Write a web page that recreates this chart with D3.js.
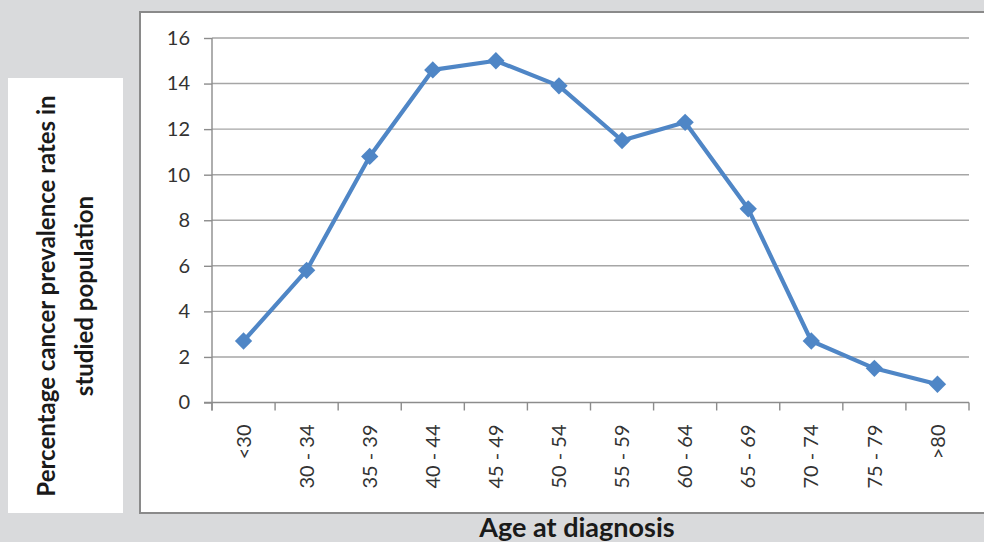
<!DOCTYPE html>
<html>
<head>
<meta charset="utf-8">
<script src="https://cdnjs.cloudflare.com/ajax/libs/d3/7.8.5/d3.min.js"></script>
<style>
    body { margin: 0; background: #d9dadc; }
    svg { display: block; font-family: Lato, "Open Sans", sans-serif; }
</style>
</head>
<body>
<svg width="984" height="542"></svg>
<script>
// data
var ageGroups = ["<30", "30 - 34", "35 - 39", "40 - 44", "45 - 49", "50 - 54",
                 "55 - 59", "60 - 64", "65 - 69", "70 - 74", "75 - 79", ">80"];
var prevalence = [2.7, 5.8, 10.8, 14.6, 15.0, 13.9, 11.5, 12.3, 8.5, 2.7, 1.5, 0.8];
var yTicks = [0, 2, 4, 6, 8, 10, 12, 14, 16];
var yTitleLines = ["Percentage cancer prevalence rates in", "studied population"];
var xTitle = "Age at diagnosis";

(function () {
    var svg = d3.select("svg"),
        plot = {left: 212, right: 969, top: 38, bottom: 402.5};

    // backgrounds: chart frame + y-title box
    svg.append("rect")
        .attr("x", 140).attr("y", 12)
        .attr("width", 900).attr("height", 501)
        .attr("fill", "#fff")
        .attr("stroke", "#8a8a8a")
        .attr("stroke-width", 2);

    svg.append("rect")
        .attr("x", 8).attr("y", 78)
        .attr("width", 115).attr("height", 435)
        .attr("fill", "#fff");

    var scaleX = d3.scaleBand().domain(ageGroups).range([plot.left, plot.right]).padding(0),
        scaleY = d3.scaleLinear().domain([0, 16]).range([plot.bottom, plot.top]);

    // gridlines
    svg.append("g").attr("class", "grid")
        .selectAll("line")
        .data(yTicks.filter(function (d) { return d > 0; }))
        .enter().append("line")
        .attr("x1", plot.left).attr("x2", plot.right)
        .attr("y1", function (d) { return scaleY(d); })
        .attr("y2", function (d) { return scaleY(d); })
        .attr("stroke", "#a6a6a6")
        .attr("stroke-width", 1.4);

    // y axis
    var axisY = svg.append("g")
        .attr("transform", "translate(" + plot.left + ",0)")
        .call(d3.axisLeft(scaleY).tickValues(yTicks).tickSize(8).tickPadding(14));
    axisY.select(".domain").attr("stroke", "#8c8c8c").attr("stroke-width", 1.4)
        .attr("d", "M0," + (plot.bottom + 8) + "V" + plot.top);
    axisY.selectAll(".tick line").attr("stroke", "#8c8c8c").attr("stroke-width", 1.4);
    axisY.selectAll(".tick text")
        .style("font-size", "20px")
        .style("font-family", "Lato, sans-serif")
        .attr("fill", "#333");

    // x axis: line, boundary ticks, rotated labels
    var axisX = svg.append("g").attr("class", "axis--x");
    axisX.append("line")
        .attr("x1", plot.left - 8).attr("x2", plot.right)
        .attr("y1", plot.bottom).attr("y2", plot.bottom)
        .attr("stroke", "#8c8c8c").attr("stroke-width", 1.4);

    var bounds = ageGroups.map(function (d) { return scaleX(d); }).concat([plot.right]);
    axisX.selectAll(".bound")
        .data(bounds)
        .enter().append("line")
        .attr("class", "bound")
        .attr("x1", function (d) { return d; }).attr("x2", function (d) { return d; })
        .attr("y1", plot.bottom).attr("y2", plot.bottom + 8)
        .attr("stroke", "#8c8c8c").attr("stroke-width", 1.4);

    axisX.selectAll(".lbl")
        .data(ageGroups)
        .enter().append("text")
        .attr("class", "lbl")
        .attr("transform", function (d) {
            return "translate(" + (scaleX(d) + scaleX.bandwidth() / 2) + "," + (plot.bottom + 22) + ") rotate(-90)";
        })
        .attr("text-anchor", "end")
        .attr("dy", "0.36em")
        .style("font-size", "20px")
        .attr("fill", "#333")
        .text(function (d) { return d; });

    // series line + diamond markers
    var line = d3.line()
        .x(function (d, i) { return scaleX(ageGroups[i]) + scaleX.bandwidth() / 2; })
        .y(function (d) { return scaleY(d); });

    svg.append("path")
        .datum(prevalence)
        .attr("d", line)
        .attr("fill", "none")
        .attr("stroke", "#4f86c6")
        .attr("stroke-width", 4.2)
        .attr("stroke-linejoin", "round");

    var diamond = d3.symbol().type(d3.symbolSquare).size(150);
    svg.append("g").selectAll("path")
        .data(prevalence)
        .enter().append("path")
        .attr("d", diamond)
        .attr("transform", function (d, i) {
            return "translate(" + (scaleX(ageGroups[i]) + scaleX.bandwidth() / 2) + "," + scaleY(d) + ") rotate(45)";
        })
        .attr("fill", "#4f86c6");

    // titles
    svg.append("text")
        .attr("x", 577)
        .attr("y", 537)
        .attr("text-anchor", "middle")
        .style("font-size", "27px")
        .style("font-weight", "bold")
        .attr("fill", "#1a1a1a")
        .text(xTitle);

    var yTitle = svg.append("text")
        .attr("transform", "translate(0,296) rotate(-90)")
        .attr("text-anchor", "middle")
        .style("font-size", "24px")
        .style("font-weight", "bold")
        .attr("fill", "#1a1a1a");
    yTitle.selectAll("tspan")
        .data(yTitleLines)
        .enter().append("tspan")
        .attr("x", 0)
        .attr("y", function (d, i) { return 55 + i * 38; })
        .text(function (d) { return d; });
})();
</script>
</body>
</html>
